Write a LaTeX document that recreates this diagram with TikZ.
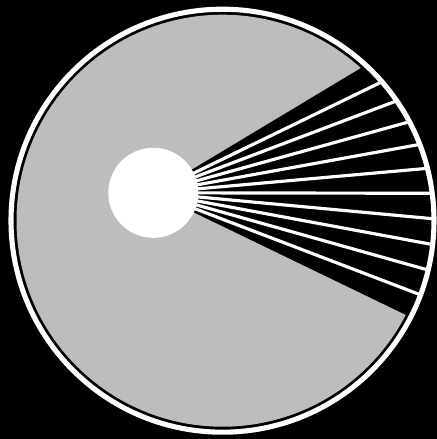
\documentclass[tikz,border=0pt]{standalone}
\definecolor{diskgray}{gray}{0.74}
\begin{document}
\begin{tikzpicture}[x=0.01cm, y=0.01cm,
    ray/.style={white, line width=0.9pt},
  ]
    % Background
    \fill[black] (0,0) rectangle (437,439);
    \useasboundingbox (0,0) rectangle (437,439);
    \coordinate (centre) at (222.5,218.3);
    \coordinate (hub) at (153.3,246.2);
    % Disk
    \fill[diskgray] (centre) circle (206);
    % Wedge and rays
    \begin{scope}
      \clip (centre) circle (211);
      \fill[black] (hub) -- ([shift={(hub)}]31:400) -- ([shift={(hub)}]-25.8:400) -- cycle;
      \foreach \k in {0,...,9}
        \draw[ray] (hub) -- ([shift={(hub)}]{25.9-5.2*\k}:400);
    \end{scope}
    % Rim
    \draw[white, line width=1.45pt] (centre) circle (211.5);
    % Hub
    \node[circle, fill=white, inner sep=0pt, minimum size=0.9cm] (hubdisk) at (hub) {};
  \end{tikzpicture}
\end{document}
